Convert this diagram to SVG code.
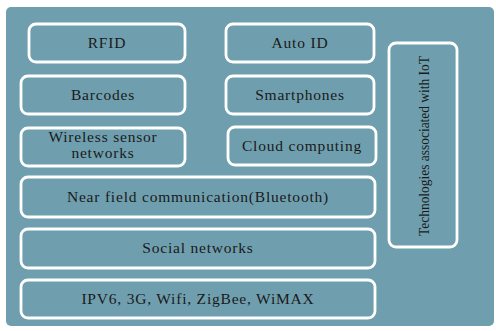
<svg xmlns="http://www.w3.org/2000/svg" width="496" height="331" viewBox="0 0 496 331">
<style>
.bg{fill:#6f9fae}
.box{fill:#6f9fae;stroke:#ffffff;stroke-width:2.8}
.t{font-family:"Liberation Serif","Times New Roman",serif;font-size:15.5px;letter-spacing:0.8px;fill:#1a1a1a;text-anchor:middle}
.v{font-family:"Liberation Serif","Times New Roman",serif;font-size:14px;fill:#1a1a1a;text-anchor:middle}
</style>
<rect width="496" height="331" fill="#ffffff"/>
<rect class="bg" x="6" y="7" width="488" height="319" rx="5"/>
<g id="rfid"><rect class="box" x="29" y="24" width="156" height="38" rx="7"/><text class="t" x="107" y="48">RFID</text></g>
<g id="autoid"><rect class="box" x="226" y="24" width="148" height="38" rx="7"/><text class="t" x="300" y="48">Auto ID</text></g>
<g id="barcodes"><rect class="box" x="21" y="76" width="164" height="38" rx="7"/><text class="t" x="103" y="100">Barcodes</text></g>
<g id="smartphones"><rect class="box" x="226" y="76" width="148" height="38" rx="7"/><text class="t" x="300" y="100">Smartphones</text></g>
<g id="wsn"><rect class="box" x="21" y="128" width="164" height="38" rx="7"/><text class="t" x="103" y="142">Wireless sensor</text><text class="t" x="103" y="158">networks</text></g>
<g id="cloud"><rect class="box" x="228" y="127" width="148" height="38" rx="7"/><text class="t" x="302" y="151">Cloud computing</text></g>
<g id="nfc"><rect class="box" x="21" y="177" width="354" height="40" rx="7"/><text class="t" x="198" y="202">Near field communication(Bluetooth)</text></g>
<g id="social"><rect class="box" x="21" y="229" width="354" height="39" rx="7"/><text class="t" x="198" y="253">Social networks</text></g>
<g id="ipv6"><rect class="box" x="21" y="280" width="354" height="38" rx="7"/><text class="t" x="198" y="304">IPV6, 3G, Wifi, ZigBee, WiMAX</text></g>
<g id="iot"><rect class="box" x="389" y="43" width="68" height="204" rx="7"/><text class="v" transform="translate(429,146) rotate(-90)" textLength="180" lengthAdjust="spacingAndGlyphs">Technologies associated with IoT</text></g>
<g id="connectors"></g>
</svg>
